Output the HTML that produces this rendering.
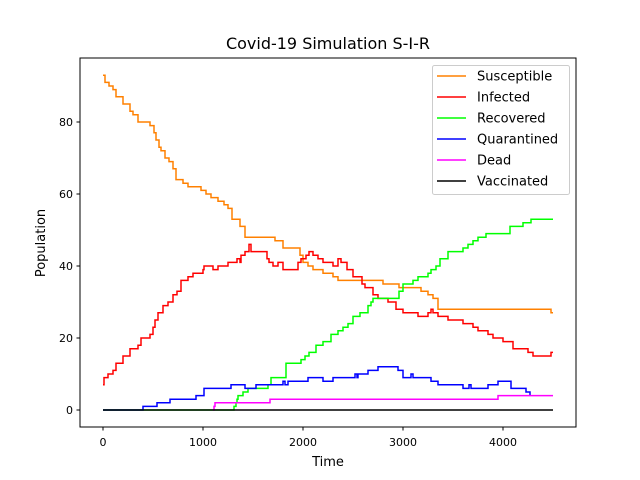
<!DOCTYPE html>
<html><head><meta charset="utf-8"><style>
body{margin:0;background:#fff;}
svg{display:block;font-family:"DejaVu Sans","Liberation Sans",sans-serif;}
</style></head><body>
<svg id="chart" width="640" height="480" xmlns="http://www.w3.org/2000/svg">
<text x="328" y="49" font-size="16" text-anchor="middle">Covid-19 Simulation S-I-R</text>
<g id="plot"></g>
<rect x="80" y="58" width="496" height="369" fill="none" stroke="#000" stroke-width="1"/>
<g id="xt"></g><g id="yt"></g>
<text x="328" y="466" font-size="13" text-anchor="middle">Time</text>
<text transform="translate(45,243) rotate(-90)" font-size="13" text-anchor="middle">Population</text>
<g id="legend"></g>
</svg>
<script>
const xTicks=[0,1000,2000,3000,4000];
const yTicks=[0,20,40,60,80];
const seriesNames=["Susceptible","Infected","Recovered","Quarantined","Dead","Vaccinated"];
const seriesColors=["#ff8000","#ff0000","#00ff00","#0000ff","#ff00ff","#000000"];
const susceptibleT=[0,20,60,100,130,200,270,300,350,470,510,530,560,580,620,660,700,730,800,850,980,1030,1080,1150,1210,1250,1290,1370,1420,1720,1800,1970,2000,2050,2100,2200,2300,2350,2800,2960,3180,3250,3300,3350,4480,4500];
const susceptibleV=[93,91,90,89,87,85,83,82,80,79,77,75,73,72,70,69,67,64,63,62,61,60,59,58,57,56,53,51,48,47,45,43,41,40,39,38,37,36,35,34,33,32,31,28,27,27];
const infectedT=[0,10,50,100,130,200,270,350,380,470,500,520,550,600,650,700,740,780,850,900,1000,1010,1100,1150,1250,1340,1370,1380,1420,1460,1480,1640,1660,1700,1750,1800,1950,1980,2030,2060,2100,2150,2200,2300,2350,2380,2440,2500,2590,2620,2700,2750,2850,2930,3000,3150,3250,3280,3300,3350,3450,3600,3700,3750,3850,3900,4000,4100,4250,4300,4480,4500];
const infectedV=[7,9,10,11,13,15,17,18,20,21,23,25,27,29,30,32,33,36,37,38,39,40,39,40,41,42,41,43,44,46,44,42,41,40,41,39,41,42,43,44,43,42,41,40,42,41,39,37,35,34,32,31,30,28,27,26,27,28,27,26,25,24,23,22,21,20,19,17,16,15,16,16];
const recoveredT=[0,1310,1330,1340,1350,1400,1450,1500,1650,1680,1830,1980,2020,2060,2130,2200,2280,2350,2400,2450,2500,2570,2650,2680,2700,2960,3000,3100,3150,3250,3280,3330,3370,3450,3600,3650,3700,3750,3830,4070,4200,4280,4500];
const recoveredV=[0,1,2,3,4,5,6,6,7,9,13,14,15,16,18,19,21,22,23,24,26,27,29,30,31,33,35,36,37,38,39,40,42,44,45,46,47,48,49,51,52,53,53];
const quarantinedT=[0,400,540,670,930,1010,1280,1420,1530,1800,1820,1850,2050,2200,2300,2520,2540,2550,2650,2750,2950,3000,3080,3100,3280,3350,3600,3660,3680,3850,3950,4080,4230,4270];
const quarantinedV=[0,1,2,3,4,6,7,6,7,8,7,8,9,8,9,10,9,10,11,12,11,9,10,9,8,7,6,7,6,7,8,6,5,4];
const deadT=[1100,1110,1120,1670,3950,4500];
const deadV=[0,1,2,3,4,4];
const vaccinatedT=[0,4500];
const vaccinatedV=[0,0];
const allT=[susceptibleT,infectedT,recoveredT,quarantinedT,deadT,vaccinatedT];
const allV=[susceptibleV,infectedV,recoveredV,quarantinedV,deadV,vaccinatedV];

const NS="http://www.w3.org/2000/svg";
const xs=t=>103+t*0.1;
const ys=v=>410-v*3.6;
function mk(tag,attrs,parent){const e=document.createElementNS(NS,tag);for(const k in attrs)e.setAttribute(k,attrs[k]);parent.appendChild(e);return e;}
const plot=document.getElementById('plot');
for(let s=0;s<allT.length;s++){
  const T=allT[s],V=allV[s];
  let d="M"+xs(T[0])+","+ys(V[0]);
  for(let i=1;i<T.length;i++){d+=" H"+xs(T[i])+" V"+ys(V[i]);}
  const p=mk('path',{d:d,fill:"none",stroke:seriesColors[s],"stroke-width":1.5},plot);
  
  
}
const xt=document.getElementById('xt');
xTicks.forEach(t=>{
  const l=mk('line',{x1:xs(t),x2:xs(t),y1:427,y2:430.5,stroke:"#000"},xt);
  
  
  const tx=mk('text',{x:xs(t),y:446,"font-size":"11","text-anchor":"middle"},xt);
  tx.textContent=t;
  
  
});
const yt=document.getElementById('yt');
yTicks.forEach(v=>{
  const l=mk('line',{x1:76.5,x2:80,y1:ys(v),y2:ys(v),stroke:"#000"},yt);
  
  
  const tx=mk('text',{x:73,y:ys(v)+4,"font-size":"11","text-anchor":"end"},yt);
  tx.textContent=v;
  
  
});
const lg=document.getElementById('legend');
const box=mk('rect',{x:432.5,y:65.5,width:137,height:129,rx:2,fill:"#fff","fill-opacity":0.8,stroke:"#ccc"},lg);


seriesNames.forEach((n,i)=>{
  const y=76+i*21;
  const g=mk('g',{},lg);
  
  
  mk('line',{x1:437,x2:466,y1:y,y2:y,stroke:seriesColors[i],"stroke-width":1.5},g);
  const t=mk('text',{x:477,y:y+4.5,"font-size":"13"},g);
  t.textContent=n;
});
</script>
</body></html>
